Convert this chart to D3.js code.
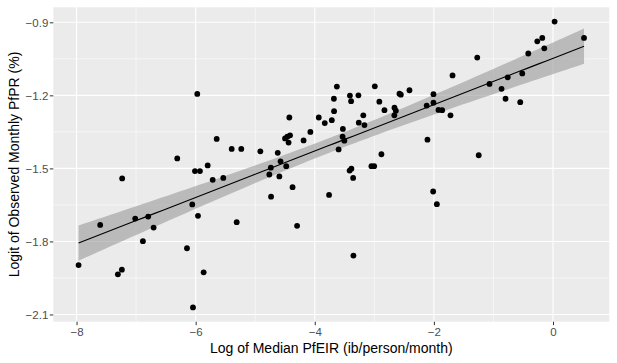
<!DOCTYPE html>
<html lang="en">
<head>
<meta charset="UTF-8">
<title>Observed PfPR vs PfEIR</title>
<style>
  body { margin: 0; background: #fff; }
  svg { display: block; font-family: "Liberation Sans", Arial, sans-serif; }
  .axis .tick text { fill: #4d4d4d; font-size: 11.5px; }
  .axis .tick line { stroke: #333; stroke-width: 1; }
  .axis .domain { display: none; }
  .axis-title { fill: #000; font-size: 14px; }
</style>
</head>
<body>
<svg width="617" height="363"></svg>

<script src="https://cdn.jsdelivr.net/npm/d3@7"></script>
<script>

    // log of median PfEIR (x) and logit of observed monthly PfPR (y), one entry per site
    var logEIR = [
        -7.966, -7.603, -7.234, -7.015, -6.797, -6.706, -6.886, -7.239, -7.306, -6.146,
        -6.057, -5.961, -5.866, -6.045, -6.012, -5.928, -5.973, -6.309, -5.798, -5.647,
        -5.395, -5.234, -5.714, -5.536, -4.914, -4.622, -4.575, -4.479, -4.738, -4.763,
        -4.595, -4.373, -4.427, -4.499, -4.461, -4.415, -4.440, -4.188, -4.074, -3.933,
        -3.832, -3.714, -3.676, -3.679, -3.629, -3.528, -3.533, -3.503, -3.600, -3.410,
        -3.390, -3.267, -3.261, -3.185, -3.166, -2.992, -2.916, -2.830, -2.662, -2.639,
        -2.664, -2.578, -2.555, -2.410, -2.881, -3.415, -3.385, -3.356, -3.049, -3.003,
        -2.007, -2.121, -2.007, -1.923, -1.861, -1.721, -1.687, -2.108, -1.272, -1.247,
        -1.066, -0.864, -0.797, -0.760, -0.550, -0.516, -0.415, -0.264, -0.180, -0.146,
         0.027,  0.521, -2.012, -1.950, -4.734, -3.760, -5.311, -4.297, -3.351
    ];
    var logitPR = [
        -1.897, -1.732, -1.541, -1.706, -1.698, -1.743, -1.799, -1.916, -1.935, -1.828,
        -1.648, -1.695, -1.927, -2.071, -1.511, -1.511, -1.194, -1.459, -1.488, -1.379,
        -1.420, -1.420, -1.547, -1.539, -1.430, -1.436, -1.471, -1.491, -1.497, -1.525,
        -1.533, -1.577, -1.291, -1.377, -1.370, -1.364, -1.394, -1.385, -1.350, -1.291,
        -1.314, -1.302, -1.265, -1.214, -1.164, -1.338, -1.370, -1.386, -1.422, -1.201,
        -1.224, -1.200, -1.312, -1.282, -1.322, -1.163, -1.226, -1.261, -1.251, -1.263,
        -1.282, -1.193, -1.197, -1.179, -1.442, -1.509, -1.501, -1.539, -1.491, -1.491,
        -1.195, -1.242, -1.230, -1.260, -1.261, -1.282, -1.118, -1.382, -1.045, -1.446,
        -1.153, -1.173, -1.214, -1.126, -1.228, -1.110, -1.028, -0.978, -0.964, -1.007,
        -0.897, -0.964, -1.595, -1.647, -1.616, -1.609, -1.721, -1.736, -1.858
    ];

    var xTicks = [-8, -6, -4, -2, 0];
    var yTicks = [-0.9, -1.2, -1.5, -1.8, -2.1];
    var xMinorTicks = [-7, -5, -3, -1];
    var yMinorTicks = [-1.05, -1.35, -1.65, -1.95];

    var xTitle = "Log of Median PfEIR (ib/person/month)";
    var yTitle = "Logit of Observed Monthly PfPR (%)";

    function translate(x, y) { return "translate(" + x + "," + y + ")"; }

    var svg = d3.select("svg"),
        margins = {top: 7.3, right: 7.7, bottom: 41.3, left: 53.3};

    var width = +svg.attr("width") - margins.left - margins.right;
    var height = +svg.attr("height") - margins.top - margins.bottom;

    var points = logEIR.map(function(x, i) { return {x: x, y: logitPR[i]}; });

    // ggplot-style 5% padding around the data
    function padded(ext) {
        var pad = (ext[1] - ext[0]) * 0.05;
        return [ext[0] - pad, ext[1] + pad];
    }

    var xScale = d3.scaleLinear().domain(padded(d3.extent(logEIR))).range([0, width]);
    var yScale = d3.scaleLinear().domain(padded(d3.extent(logitPR))).range([height, 0]);

    // linear fit with 95% confidence band
    var n = points.length;
    var xMean = d3.mean(logEIR), yMean = d3.mean(logitPR);
    var sxx = d3.sum(logEIR, function(x) { return (x - xMean) * (x - xMean); });
    var sxy = d3.sum(points, function(d) { return (d.x - xMean) * (d.y - yMean); });
    var slope = sxy / sxx, intercept = yMean - slope * xMean;
    var sse = d3.sum(points, function(d) { var r = d.y - (intercept + slope * d.x); return r * r; });
    var sigma = Math.sqrt(sse / (n - 2));
    var tCrit = 1.985;

    var xExt = d3.extent(logEIR);
    var fit = d3.range(80).map(function(i) {
        var x = xExt[0] + (xExt[1] - xExt[0]) * i / 79;
        var yhat = intercept + slope * x;
        var se = sigma * Math.sqrt(1 / n + (x - xMean) * (x - xMean) / sxx);
        return {x: x, y: yhat, lo: yhat - tCrit * se, hi: yhat + tCrit * se};
    });

    var panel = svg.append("g").attr("transform", translate(margins.left, margins.top));

    panel.append("rect")
        .attr("width", width)
        .attr("height", height)
        .attr("fill", "#ebebeb");

    // grid
    panel.selectAll(".xminor").data(xMinorTicks).enter().append("line")
        .attr("x1", xScale).attr("x2", xScale)
        .attr("y1", 0).attr("y2", height)
        .attr("stroke", "#fff").attr("stroke-width", 0.55);
    panel.selectAll(".yminor").data(yMinorTicks).enter().append("line")
        .attr("y1", yScale).attr("y2", yScale)
        .attr("x1", 0).attr("x2", width)
        .attr("stroke", "#fff").attr("stroke-width", 0.55);
    panel.selectAll(".xmajor").data(xTicks).enter().append("line")
        .attr("x1", xScale).attr("x2", xScale)
        .attr("y1", 0).attr("y2", height)
        .attr("stroke", "#fff").attr("stroke-width", 1.1);
    panel.selectAll(".ymajor").data(yTicks).enter().append("line")
        .attr("y1", yScale).attr("y2", yScale)
        .attr("x1", 0).attr("x2", width)
        .attr("stroke", "#fff").attr("stroke-width", 1.1);

    var band = d3.area()
        .x(function(d) { return xScale(d.x); })
        .y0(function(d) { return yScale(d.lo); })
        .y1(function(d) { return yScale(d.hi); });

    var fitLine = d3.line()
        .x(function(d) { return xScale(d.x); })
        .y(function(d) { return yScale(d.y); });

    panel.append("path")
        .datum(fit)
        .attr("d", band)
        .attr("fill", "#999")
        .attr("fill-opacity", 0.6);

    panel.selectAll(".dot")
        .data(points)
        .enter()
        .append("circle")
        .attr("class", "dot")
        .attr("cx", function(d) { return xScale(d.x); })
        .attr("cy", function(d) { return yScale(d.y); })
        .attr("r", 2.9)
        .attr("fill", "#000");

    panel.append("path")
        .datum(fit)
        .attr("d", fitLine)
        .attr("fill", "none")
        .attr("stroke", "#000")
        .attr("stroke-width", 1.1);

    // axes
    var xAxis = d3.axisBottom(xScale)
        .tickValues(xTicks)
        .tickFormat(d3.format("d"))
        .tickSize(3.5)
        .tickPadding(2.8);

    svg.append("g")
        .attr("class", "x axis")
        .attr("transform", translate(margins.left, margins.top + height))
        .call(xAxis);

    var yAxis = d3.axisLeft(yScale)
        .tickValues(yTicks)
        .tickFormat(d3.format(".1f"))
        .tickSize(3.5)
        .tickPadding(1.5);

    svg.append("g")
        .attr("class", "y axis")
        .attr("transform", translate(margins.left, margins.top))
        .call(yAxis);

    svg.append("text")
        .attr("class", "axis-title")
        .attr("x", margins.left + width / 2)
        .attr("y", 352.7)
        .attr("text-anchor", "middle")
        .text(xTitle);

    svg.append("text")
        .attr("class", "axis-title")
        .attr("transform", "rotate(-90)")
        .attr("x", -(margins.top + height / 2))
        .attr("y", 19)
        .attr("text-anchor", "middle")
        .text(yTitle);
</script>
</body>
</html>
